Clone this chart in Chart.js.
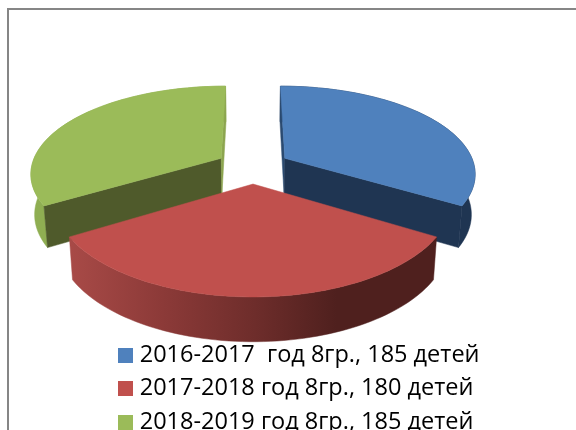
<!DOCTYPE html>
<html>
<head>
<meta charset="utf-8">
<style>
  html, body { margin: 0; padding: 0; background: #fff; overflow: hidden; }
  canvas { display: block; }
</style>
<script src="https://cdn.jsdelivr.net/npm/chart.js@4"></script>
</head>
<body>
<canvas id="chart_pie" width="576" height="430"></canvas>
<script>
const categories = ['2016-2017  год 8гр., 185 детей', '2017-2018 год 8гр., 180 детей', '2018-2019 год 8гр., 185 детей'];
const children = [185, 180, 185];

const topColors = ['#4f81bd', '#c0504d', '#9bbb59'];
const cutColors = ['#1f3552', '#5a2421', '#4f5a2b'];
const stripColors = ['#2b4a70', '#5a2421', '#8ca54f'];

// pie plane -> screen, the slices come from the angles chart.js works out
const CX = 253, CY = 166.5, RX = 190, RY = 87, PX = 0.16, PY = 0.17, EXPLODE = 0.195;

function project(x, y, low) {
    const sx = RX * x / (1 + PX * y) * (low ? 0.983 : 1);
    const sy = RY * y / (1 + PY * y);
    return [CX + sx, CY - sy + (low ? 40 - 4 * y : 0)];
}

function rim(arc, ox, oy, low) {
    const pts = [];
    const steps = Math.ceil((arc.endAngle - arc.startAngle) / 0.03);
    for (let i = 0; i <= steps; i++) {
        const a = arc.startAngle + (arc.endAngle - arc.startAngle) * i / steps;
        pts.push(project(ox + Math.cos(a), oy - Math.sin(a), low));
    }
    return pts;
}

function fillPoly(ctx, pts, color) {
    ctx.beginPath();
    pts.forEach((p, i) => i ? ctx.lineTo(p[0], p[1]) : ctx.moveTo(p[0], p[1]));
    ctx.closePath();
    ctx.fillStyle = color;
    ctx.fill();
    // hairline closes the seams between neighbouring faces
    ctx.strokeStyle = color;
    ctx.lineWidth = 0.5;
    ctx.stroke();
}

function drawSlice(ctx, arc, index) {
    const mid = (arc.startAngle + arc.endAngle) / 2;
    const ox = EXPLODE * Math.cos(mid);
    const oy = -EXPLODE * Math.sin(mid);
    const top = rim(arc, ox, oy, false);
    const low = rim(arc, ox, oy, true);
    const apex = project(ox, oy, false);
    const apexLow = project(ox, oy, true);

    let wall = cutColors[index];
    if (index == 1) {
        wall = ctx.createLinearGradient(70, 0, 440, 0);
        wall.addColorStop(0, '#a84a47');
        wall.addColorStop(0.25, '#8c3a38');
        wall.addColorStop(0.5, '#6e2d2b');
        wall.addColorStop(0.72, '#4f201e');
        wall.addColorStop(1, '#4f201e');
    } else if (index == 2) {
        wall = '#8fae52';
    }
    fillPoly(ctx, top.concat(low.slice().reverse()), wall);

    // the red slice faces the viewer, its cut faces stay hidden
    if (index != 1) {
        const first = top[0], last = top[top.length - 1];
        const firstLow = low[0], lastLow = low[low.length - 1];
        fillPoly(ctx, [apex, first, firstLow, apexLow], index == 2 ? cutColors[2] : stripColors[index]);
        fillPoly(ctx, [apex, last, lastLow, apexLow], index == 2 ? stripColors[2] : cutColors[index]);
    }
    fillPoly(ctx, [apex].concat(top), topColors[index]);
}

function legendSquare(color) {
    const c = document.createElement('canvas');
    c.width = 15;
    c.height = 15;
    const g = c.getContext('2d');
    g.fillStyle = color;
    g.fillRect(0, 0, 15, 15);
    return c;
}

const pie3d = {
    id: 'pie3d',
    beforeDraw(chart) {
        const ctx = chart.ctx;
        ctx.save();
        ctx.strokeStyle = '#868686';
        ctx.lineWidth = 2;
        ctx.beginPath();
        ctx.moveTo(8, 430);
        ctx.lineTo(8, 9);
        ctx.lineTo(576, 9);
        ctx.stroke();
        ctx.restore();
    },
    beforeDatasetDraw(chart, args) {
        const arcs = args.meta.data;
        [0, 2, 1].forEach(i => drawSlice(chart.ctx, arcs[i], i));
        return false;
    }
};

new Chart(document.getElementById('chart_pie'), {
    type: 'pie',
    data: {
        labels: categories,
        datasets: [{ data: children, backgroundColor: topColors, borderWidth: 0 }]
    },
    options: {
        responsive: false,
        animation: false,
        layout: { padding: { left: 113, right: 80, top: 0, bottom: -14 } },
        plugins: {
            tooltip: { enabled: false },
            legend: {
                display: true,
                position: 'bottom',
                align: 'start',
                labels: {
                    usePointStyle: true,
                    pointStyleWidth: 5,
                    padding: 10,
                    color: '#000',
                    font: { family: 'Open Sans', size: 23.5 },
                    generateLabels(chart) {
                        const items = Chart.overrides.pie.plugins.legend.labels.generateLabels(chart);
                        items.forEach((item, i) => { item.pointStyle = legendSquare(topColors[i]); });
                        return items;
                    }
                }
            }
        }
    },
    plugins: [pie3d]
});
</script>
</body>
</html>
